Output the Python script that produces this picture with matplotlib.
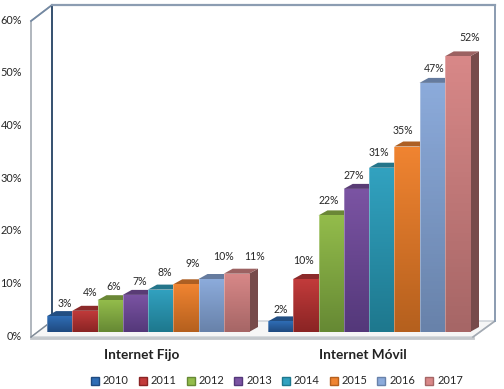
import matplotlib
matplotlib.use('Agg')
import matplotlib.pyplot as plt
import numpy as np
from matplotlib.colors import LinearSegmentedColormap, to_rgb
from matplotlib.patches import Patch, Polygon

years = ['2010', '2011', '2012', '2013', '2014', '2015', '2016', '2017']
fijo = [3, 4, 6, 7, 8, 9, 10, 11]
movil = [2, 10, 22, 27, 31, 35, 47, 52]
categories = ['Internet Fijo', 'Internet Móvil']
ticks = [0, 10, 20, 30, 40, 50, 60]

top_colors = ['#2f6db5', '#c23b3b', '#93bc4b', '#7b54a3', '#32a2c0', '#f08431', '#8cabdb', '#d88888']
bottom_colors = ['#1f4a80', '#8a2424', '#668934', '#54387a', '#1e788e', '#b5601e', '#6882aa', '#a66666']

plt.rcParams['font.family'] = ['Lato', 'DejaVu Sans']

fig = plt.figure(figsize=(5.04, 3.89), dpi=100)
ax = fig.add_axes([0, 0, 1, 1])

# x axis runs in pixels, y axis in percent
PX = 5.3
BASE = 332
def py(p):
    return (BASE - p) / PX

ax.set_xlim(0, 504)
ax.set_ylim(py(389), py(0))
ax.axis('off')

# walls and floor
ax.add_patch(Polygon([(31, py(337)), (473, py(337)), (495, py(321)), (52, py(321))],
                     facecolor='#f6f6f6', edgecolor='#c9ced4', lw=1))
ax.plot([31, 473], [py(337.5), py(337.5)], color='#c4c8cc', lw=2)
ax.plot([31, 31, 52, 495, 495, 473], [py(337), py(21), py(5), py(5), py(321), py(337)], color='#a3aab3', lw=1.2)
ax.plot([31, 52], [py(21), py(5)], color='#7389a3', lw=1.2)
ax.plot([52, 52], [py(5), py(321)], color='#34506f', lw=1.4)
ax.plot([52, 495], [py(5), py(5)], color='#8c9db2', lw=1.6)
ax.plot([495, 495], [py(5), py(321)], color='#8c9db2', lw=1.4)
ax.plot([31, 52], [py(337), py(321)], color='#7f8a96', lw=1)

for t in ticks:
    ax.text(22, py(336 - t * 316 / 60), '%d%%' % t, ha='right', va='center', fontsize=7.8, color='#262626')

group_left = [47, 268]
group_values = [fijo, movil]
BAR_W = 25.25
DX = 9
DY = 5 / PX

label_dx = [[5, 5, 4, 4, 4, 7, 12, 18], [0, -2, -2, -3, -3, -4, 2, 12]]
label_dy = [[13, 18, 14, 13, 17, 21, 22, 17], [12, 19, 15, 13, 15, 16, 14, 19]]

for g in range(2):
    vals = group_values[g]
    xs = [group_left[g] + i * BAR_W for i in range(len(vals))]
    for i in range(len(vals)):
        x0 = xs[i]
        x1 = x0 + BAR_W
        v = vals[i]
        rgb = np.array(to_rgb(top_colors[i]))
        # side and top faces behind the front
        ax.add_patch(Polygon([(x1, 0), (x1 + DX, DY), (x1 + DX, v + DY), (x1, v)],
                             facecolor=rgb * 0.55, edgecolor='none', zorder=2 + i))
        ax.add_patch(Polygon([(x0, v), (x0 + DX, v + DY), (x1 + DX, v + DY), (x1, v)],
                             facecolor=rgb * 0.72, edgecolor='none', zorder=2 + i))
        bar = ax.bar(x0, v, BAR_W, align='edge', color=top_colors[i], linewidth=0, zorder=2 + i)[0]
        cmap = LinearSegmentedColormap.from_list('b', [top_colors[i], bottom_colors[i]])
        im = ax.imshow(np.linspace(0, 1, 64).reshape(-1, 1), extent=(x0, x1, 0, v), origin='upper',
                       aspect='auto', cmap=cmap, zorder=2 + i + 0.1)
        im.set_clip_path(bar)
        ax.plot([x0, x0], [0, v], color='white', alpha=0.35, lw=0.6, zorder=2 + i + 0.2)
        ax.text(x0 + BAR_W / 2 + label_dx[g][i], v + label_dy[g][i] / PX, '%d%%' % v, ha='center', va='center',
                fontsize=7.6, color='#262626', zorder=20)

ax.set_xlim(0, 504)
ax.set_ylim(py(389), py(0))

ax.text(142, py(355), categories[0], ha='center', va='center', fontsize=9.8, fontweight='bold', color='#222222')
ax.text(363, py(355), categories[1], ha='center', va='center', fontsize=9.8, fontweight='bold', color='#222222')

handles = [Patch(facecolor=top_colors[i], edgecolor=bottom_colors[i], label=years[i]) for i in range(len(years))]
ax.legend(handles=handles, ncol=8, loc='center', bbox_to_anchor=(277 / 504, 1 - 381 / 389), frameon=False,
          fontsize=8, handlelength=0.72, handleheight=0.72, handletextpad=0.35, columnspacing=0.9,
          labelcolor='#262626')

fig.savefig('out.png', dpi=100)
